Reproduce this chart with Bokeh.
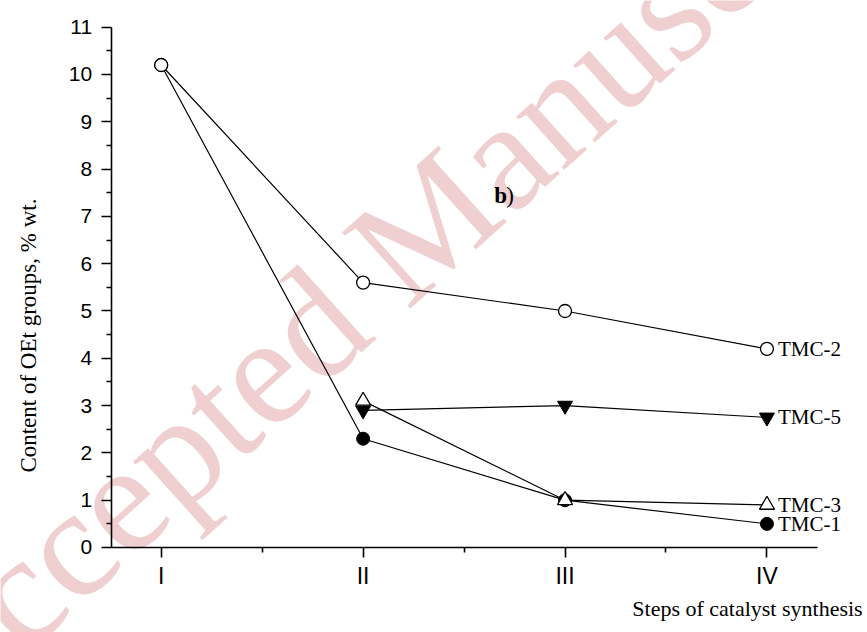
import math
from bokeh.plotting import figure
from bokeh.models import Range1d, FixedTicker, Label, ColumnDataSource
from bokeh.embed import file_html
from bokeh.resources import INLINE

# ---- data ----
steps = ["I", "II", "III", "IV"]
tmc2 = [10.2, 5.6, 5.0, 4.2]
tmc1 = [10.2, 2.3, 1.0, 0.5]
tmc3 = [None, 3.1, 1.0, 0.9]
tmc5 = [None, 2.9, 3.0, 2.75]
series_names = ["TMC-2", "TMC-5", "TMC-3", "TMC-1"]
y_ticks = list(range(0, 12))

xpos = [i + 1 for i in range(len(steps))]

# axis extents (data units) and the canvas window around them
X_AXIS_START, X_AXIS_END = 0.752, 4.25
Y_AXIS_START, Y_AXIS_END = 0, 11

p = figure(width=867, height=632, output_backend="svg", toolbar_location=None,
           x_range=Range1d(0.2041, 4.498), y_range=Range1d(-1.797, 11.564),
           min_border_left=0, min_border_right=0, min_border_top=0, min_border_bottom=0)
p.outline_line_color = None
p.grid.grid_line_color = None
p.background_fill_color = "white"
p.border_fill_color = "white"

# watermark
wm = Label(x=2.195, y=6.4, text="Accepted Manuscript", angle=math.radians(42),
           text_align="center", text_baseline="middle", text_font="Liberation Serif",
           text_font_size="156px", text_color="#EFCFD0", level="underlay")
p.add_layout(wm)


def series(vals):
    xs = [x for x, v in zip(xpos, vals) if v is not None]
    ys = [v for v in vals if v is not None]
    return ColumnDataSource(dict(x=xs, y=ys))

s1 = series(tmc1)
s5 = series(tmc5)
s2 = series(tmc2)
s3 = series(tmc3)

for s in (s1, s5, s2, s3):
    p.line("x", "y", source=s, line_color="black", line_width=1.2)

p.scatter("x", "y", source=s1, marker="circle", size=13, fill_color="black", line_color="black")
p.scatter("x", "y", source=s5, marker="inverted_triangle", size=15, fill_color="black", line_color="black")
p.scatter("x", "y", source=s2, marker="circle", size=13, fill_color="white", line_color="black", line_width=1.3)
p.scatter("x", "y", source=s3, marker="triangle", size=15, fill_color="white", line_color="black", line_width=1.3)

# series end labels
last_vals = [tmc2[-1], tmc5[-1], tmc3[-1], tmc1[-1]]
for name, v in zip(series_names, last_vals):
    p.add_layout(Label(x=xpos[-1], y=v, text=name, x_offset=11, text_baseline="middle",
                       text_font="Liberation Serif", text_font_size="21px", text_color="black"))

# panel tag
p.add_layout(Label(x=2.65, y=7.45, text="b", text_font="Liberation Serif", text_font_style="bold",
                   text_font_size="23px", text_color="black", text_baseline="middle"))
p.add_layout(Label(x=2.65, y=7.45, x_offset=12, text=")", text_font="Liberation Serif",
                   text_font_size="23px", text_color="black", text_baseline="middle"))

# axes, drawn at fixed locations inside the canvas
xa = p.xaxis[0]
xa.fixed_location = Y_AXIS_START
xa.bounds = (X_AXIS_START, X_AXIS_END)
xa.ticker = FixedTicker(ticks=xpos, minor_ticks=[1.5, 2.5, 3.5])
xa.major_label_overrides = {x: s for x, s in zip(xpos, steps)}
ya = p.yaxis[0]
ya.fixed_location = X_AXIS_START
ya.bounds = (Y_AXIS_START, Y_AXIS_END)
ya.ticker = FixedTicker(ticks=y_ticks, minor_ticks=[t + 0.5 for t in y_ticks[:-1]])
for ax in (xa, ya):
    ax.axis_line_width = 1.6
    ax.major_tick_line_width = 1.6
    ax.minor_tick_line_width = 1.6
    ax.major_tick_in = 0
    ax.major_tick_out = 10
    ax.minor_tick_in = 0
    ax.minor_tick_out = 5
    ax.major_label_text_font = "Liberation Sans"
    ax.major_label_text_color = "black"
    ax.axis_line_color = "black"
    ax.major_tick_line_color = "black"
    ax.minor_tick_line_color = "black"
xa.major_label_text_font_size = "23px"
xa.major_label_standoff = 6
ya.major_label_text_font_size = "21px"
ya.major_label_standoff = 9

# axis titles
p.add_layout(Label(x=0.343, y=4.48, text="Content of OEt groups, % wt.", angle=math.pi / 2,
                   text_align="center", text_baseline="middle", text_font="Liberation Serif",
                   text_font_size="23px", text_color="black"))
p.add_layout(Label(x=4.474, y=-1.29, text="Steps of catalyst synthesis", text_align="right",
                   text_baseline="middle", text_font="Liberation Serif",
                   text_font_size="22px", text_color="black"))

open("out.html", "w").write(file_html(p, INLINE))
